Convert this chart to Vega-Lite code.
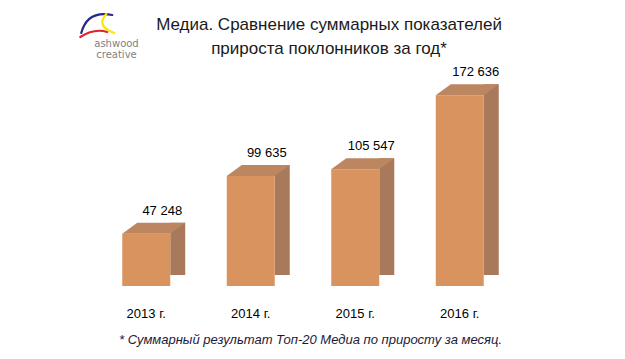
{
  "$schema": "https://vega.github.io/schema/vega-lite/v6.json",
  "width": 418,
  "height": 221,
  "autosize": {"type": "none"},
  "padding": {"left": 94, "top": 65, "right": 113, "bottom": 73},
  "background": "white",
  "title": {
    "text": ["Медиа. Сравнение суммарных показателей", "прироста поклонников за год*"],
    "font": "Liberation Sans",
    "fontSize": 17,
    "fontWeight": "normal",
    "color": "#1a1a1a",
    "anchor": "middle",
    "frame": "group",
    "dx": 26,
    "dy": 58,
    "lineHeight": 24,
    "offset": 10
  },
  "datasets": {
    "bars": [
      {"year": "2013 г.", "value": 47248},
      {"year": "2014 г.", "value": 99635},
      {"year": "2015 г.", "value": 105547},
      {"year": "2016 г.", "value": 172636}
    ],
    "logo": [
      {"part": "blue"},
      {"part": "red"},
      {"part": "yellow"}
    ]
  },
  "encoding": {
    "x": {
      "field": "year",
      "type": "nominal",
      "sort": null,
      "scale": {"paddingInner": 0.5, "paddingOuter": 0.25},
      "axis": {
        "domain": false,
        "ticks": false,
        "grid": false,
        "labelAngle": 0,
        "labelFont": "Liberation Sans",
        "labelFontSize": 13,
        "labelColor": "#000000",
        "labelPadding": 21,
        "labelDx": -8,
        "title": "* Суммарный  результат Топ-20 Медиа по приросту за месяц.",
        "titleFont": "Liberation Sans",
        "titleFontSize": 13,
        "titleFontStyle": "italic",
        "titleFontWeight": "normal",
        "titleColor": "#1a1a3a",
        "titleAlign": "center",
        "titleBaseline": "alphabetic",
        "titleX": 216,
        "titleY": 57
      }
    }
  },
  "layer": [
    {
      "data": {"name": "bars"},
      "mark": {"type": "bar", "width": 15, "xOffset": 31.5, "yOffset": -11, "color": "#A8795A"},
      "encoding": {
        "y": {
          "field": "value",
          "type": "quantitative",
          "scale": {"domain": [0, 200000], "nice": false},
          "axis": {
            "domain": false,
            "ticks": false,
            "labels": false,
            "grid": false,
            "title": ["ashwood", "creative"],
            "titleAngle": 0,
            "titleX": 22,
            "titleY": -19,
            "titleAlign": "center",
            "titleBaseline": "alphabetic",
            "titleFont": "DejaVu Sans",
            "titleFontSize": 10,
            "titleFontWeight": "normal",
            "titleColor": "#7f7f7f",
            "titleLineHeight": 11.5
          }
        }
      }
    },
    {
      "data": {"name": "bars"},
      "mark": {
        "type": "point",
        "shape": "M0,0 L1,-0.7333 L1.1,-0.7333 L1.1,0.1 L0,0.1 Z",
        "size": 1024,
        "filled": true,
        "opacity": 1,
        "color": "white",
        "strokeWidth": 0,
        "xOffset": 24
      },
      "encoding": {
        "y": {"datum": 0, "type": "quantitative"}
      }
    },
    {
      "data": {"name": "bars"},
      "mark": {"type": "bar", "width": 48, "color": "#D9935F"},
      "encoding": {
        "y": {"field": "value", "type": "quantitative"}
      }
    },
    {
      "data": {"name": "bars"},
      "mark": {
        "type": "point",
        "shape": "M0,0 L1.5,0 L1.96875,-0.34375 L0.46875,-0.34375 Z",
        "size": 4096,
        "filled": true,
        "opacity": 1,
        "color": "#BC8661",
        "strokeWidth": 0,
        "xOffset": -24
      },
      "encoding": {
        "y": {"field": "value", "type": "quantitative"}
      }
    },
    {
      "data": {"name": "bars"},
      "mark": {
        "type": "text",
        "font": "Liberation Sans",
        "fontSize": 13,
        "color": "#000000",
        "align": "center",
        "baseline": "alphabetic",
        "xOffset": 16,
        "dy": -19
      },
      "encoding": {
        "y": {"field": "value", "type": "quantitative"},
        "text": {"field": "value", "type": "quantitative", "format": ",d"}
      }
    },
    {
      "data": {"name": "logo"},
      "mark": {
        "type": "point",
        "size": 1600,
        "filled": false,
        "opacity": 1,
        "strokeWidth": 2.2,
        "strokeCap": "round",
        "xOffset": -50,
        "yOffset": -40
      },
      "encoding": {
        "x": {"datum": "2013 г."},
        "y": {"datum": 200000, "type": "quantitative"},
        "shape": {
          "field": "part",
          "type": "nominal",
          "scale": {
            "domain": ["blue", "red", "yellow"],
            "range": [
              "M-0.75,0.4 Q-0.45,-0.75 0.8,-0.5",
              "M-0.8,0.6 Q-0.1,0.15 0.55,0.35",
              "M0.5,-0.55 Q-0.05,0.05 0.9,0.4"
            ]
          },
          "legend": null
        },
        "color": {
          "field": "part",
          "type": "nominal",
          "scale": {
            "domain": ["blue", "red", "yellow"],
            "range": ["#25288C", "#E5202A", "#FFE500"]
          },
          "legend": null
        }
      }
    }
  ],
  "config": {
    "view": {"stroke": null},
    "locale": {
      "number": {"decimal": ",", "thousands": " ", "grouping": [3], "currency": ["", ""]}
    }
  }
}
